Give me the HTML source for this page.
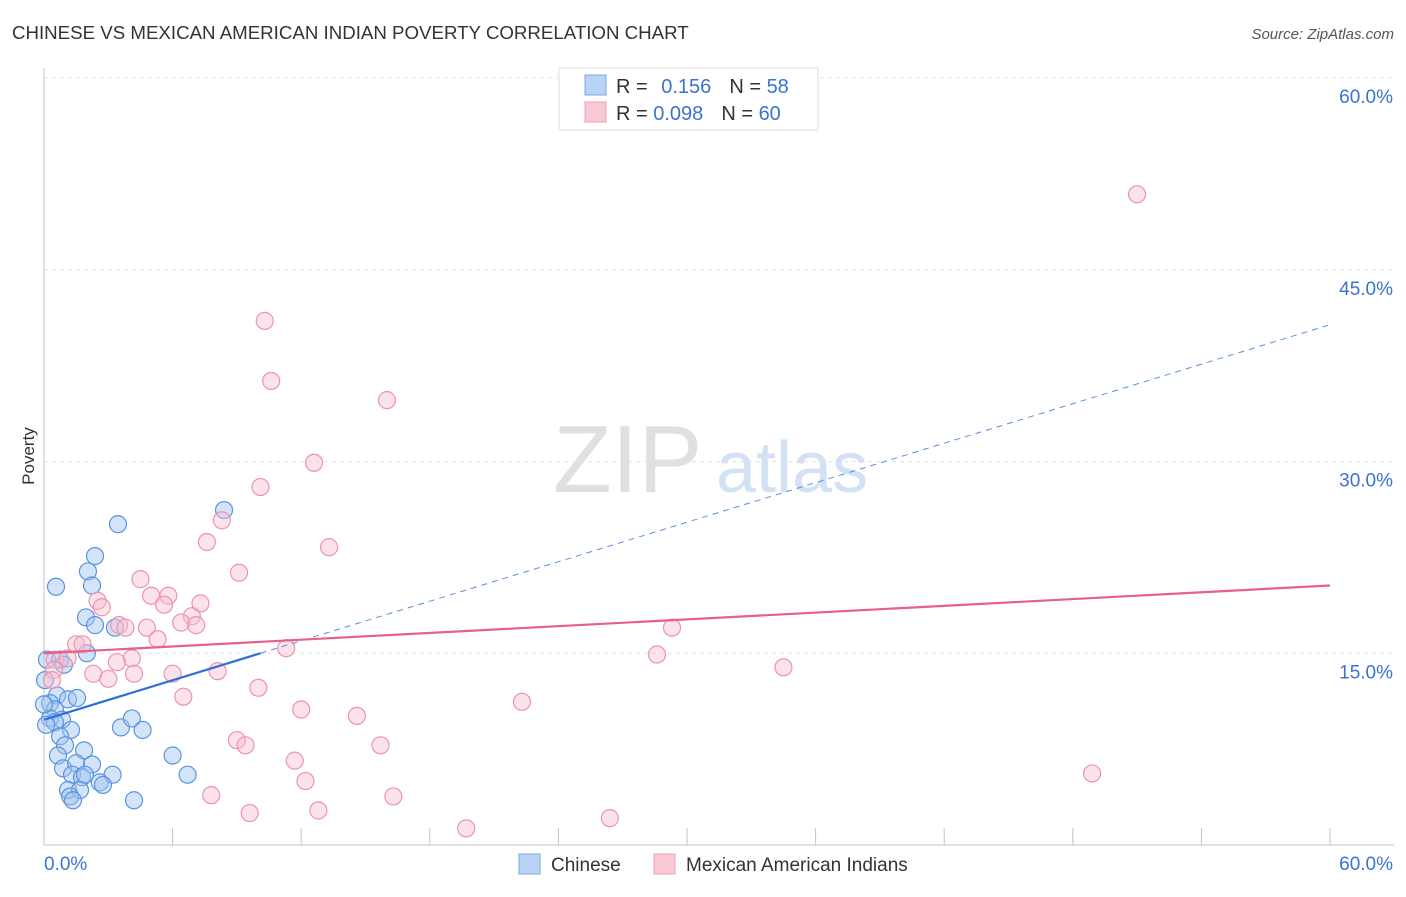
<!DOCTYPE html>
<html><head><meta charset="utf-8">
<style>
body{margin:0;background:#fff;font-family:"Liberation Sans",sans-serif;}
svg text{font-family:"Liberation Sans",sans-serif;}
</style></head>
<body>
<svg id="chart" width="1406" height="892" viewBox="0 0 1406 892">
<text x="12" y="39" font-size="18.7" fill="#333">CHINESE VS MEXICAN AMERICAN INDIAN POVERTY CORRELATION CHART</text>
<text x="1394" y="39" font-size="15" fill="#555" font-style="italic" text-anchor="end">Source: ZipAtlas.com</text>
<text x="34" y="456" font-size="17" fill="#333" text-anchor="middle" transform="rotate(-90 34 456)">Poverty</text>
<g id="grid"></g>
<text x="553" y="492" font-size="96" fill="#e0e0e0" font-family="Liberation Serif">ZIP</text>
<text x="716" y="492" font-size="72" fill="#d3e1f4">atlas</text>
<g id="points"></g>
<g id="trends"></g>
<g>
<rect x="559" y="68" width="259" height="62" fill="#fff" stroke="#ddd"/>
<rect x="585" y="75" width="21" height="20" fill="#b9d3f5" stroke="#7fa9e0"/>
<rect x="585" y="102" width="21" height="20" fill="#f9c9d6" stroke="#eea0b6"/>
<text x="616" y="93" font-size="20" fill="#333">R = <tspan fill="#3b73d1" dx="8">0.156</tspan><tspan dx="18">N = </tspan><tspan fill="#3b73d1">58</tspan></text>
<text x="616" y="120" font-size="20" fill="#333">R = <tspan fill="#3b73d1">0.098</tspan><tspan dx="18">N = </tspan><tspan fill="#3b73d1">60</tspan></text>
</g>
<g>
<rect x="519" y="854" width="21" height="20" fill="#b9d3f5" stroke="#7fa9e0"/>
<text x="551" y="871" font-size="19" fill="#333">Chinese</text>
<rect x="654" y="854" width="21" height="20" fill="#f9c9d6" stroke="#eea0b6"/>
<text x="686" y="871" font-size="19" fill="#333">Mexican American Indians</text>
</g>
</svg>
<script>
const yTicks=[15,30,45,60];
const yTickLabels=["15.0%","30.0%","45.0%","60.0%"];
const xTickLabels=["0.0%","60.0%"];
const chineseX=[0.56,3.45,8.4,2.38,2.05,2.24,1.96,2.38,3.31,2.0,0.14,0.75,0.93,0.61,1.12,1.54,0.28,0.51,0.28,0.84,0.51,1.26,0.75,0.98,1.87,3.59,4.1,4.6,6.0,6.7,0.65,0.89,1.5,2.24,1.31,1.77,1.91,3.2,2.6,1.12,1.68,2.75,1.22,1.35,4.2,0.05,0,0.1];
const chineseY=[20.2,25.1,26.2,22.6,21.4,20.3,17.8,17.2,17.0,15.0,14.5,14.5,14.1,11.7,11.4,11.5,11.1,10.6,9.9,9.8,9.6,9.0,8.5,7.8,7.4,9.2,9.9,9.0,7.0,5.5,7.0,6.0,6.4,6.3,5.5,5.3,5.5,5.5,4.9,4.3,4.3,4.7,3.8,3.5,3.5,12.9,11.0,9.4];
const mexicanX=[51.0,10.3,10.6,16.0,12.6,10.1,8.3,13.3,7.6,9.1,4.5,5.0,5.8,5.6,7.3,2.5,2.7,6.9,6.4,7.1,3.5,3.8,4.8,5.3,29.3,1.5,1.8,11.3,28.6,0.5,1.1,4.1,3.4,34.5,0.47,2.3,4.2,6.0,8.1,3.0,10.0,6.5,22.3,12.0,14.6,9.0,9.4,15.7,11.7,12.2,48.9,7.8,16.3,12.8,9.6,19.7,26.4,0.37];
const mexicanY=[50.9,41.0,36.3,34.8,29.9,28.0,25.4,23.3,23.7,21.3,20.8,19.5,19.5,18.8,18.9,19.1,18.6,17.9,17.4,17.2,17.2,17.0,17.0,16.1,17.0,15.7,15.7,15.4,14.9,14.5,14.6,14.6,14.3,13.9,13.7,13.4,13.4,13.4,13.6,13.0,12.3,11.6,11.2,10.6,10.1,8.2,7.8,7.8,6.6,5.0,5.6,3.9,3.8,2.7,2.5,1.3,2.1,12.9];
const chineseTrend=[9.8,40.7];
const chineseSolidEnd=10.1;
const mexicanTrend=[15.0,20.3];
const NS="http://www.w3.org/2000/svg";
const X0=44,X1=1330,Y0=845,Y60=78;
const sx=v=>X0+(v/60)*(X1-X0);
const sy=v=>Y0-(v/60)*(Y0-Y60);
function mk(t,a,p){const e=document.createElementNS(NS,t);for(const k in a)e.setAttribute(k,a[k]);p.appendChild(e);return e;}
const grid=document.getElementById('grid');
yTicks.forEach((t,i)=>{
 const l=mk('line',{x1:X0,x2:1394,y1:sy(t),y2:sy(t),stroke:'#e4e4e4','stroke-dasharray':'4,4'},grid);
 
 
 const tx=mk('text',{x:1393,y:sy(t)+25,'font-size':19,fill:'#3b73d1','text-anchor':'end'},grid);
 tx.textContent=yTickLabels[i];
 
 
});
const ax=mk('line',{x1:X0,x2:X0,y1:68,y2:Y0,stroke:'#c4c4c4'},grid);


const bx=mk('line',{x1:X0,x2:1394,y1:Y0,y2:Y0,stroke:'#c4c4c4'},grid);


for(let i=0;i<=10;i++){
 const x=X0+i*(X1-X0)/10;
 const tk=mk('line',{x1:x,x2:x,y1:Y0,y2:Y0-17,stroke:'#c4c4c4'},grid);
 
 
}
[[0,'start',44],[60,'end',1393]].forEach((d,i)=>{
 const t=mk('text',{x:d[2],y:870,'font-size':19,fill:'#3b73d1','text-anchor':d[1]},grid);
 t.textContent=xTickLabels[i];
 
 
});
const pts=document.getElementById('points');
chineseX.forEach((v,i)=>{
 const c=mk('circle',{cx:sx(v),cy:sy(chineseY[i]),r:8.5,fill:'rgba(160,196,240,0.45)',stroke:'#5b93e0','stroke-width':1.2},pts);
 
 
});
mexicanX.forEach((v,i)=>{
 const c=mk('circle',{cx:sx(v),cy:sy(mexicanY[i]),r:8.5,fill:'rgba(248,190,208,0.45)',stroke:'#ec93ae','stroke-width':1.2},pts);
 
 
});
const tr=document.getElementById('trends');
const cy=x=>chineseTrend[0]+(chineseTrend[1]-chineseTrend[0])*x/60;
const l1=mk('line',{x1:sx(0),y1:sy(cy(0)),x2:sx(chineseSolidEnd),y2:sy(cy(chineseSolidEnd)),stroke:'#2f6fd6','stroke-width':2.2},tr);


const l2=mk('line',{x1:sx(chineseSolidEnd),y1:sy(cy(chineseSolidEnd)),x2:sx(60),y2:sy(cy(60)),stroke:'#5b8fdc','stroke-width':1,'stroke-dasharray':'6,5'},tr);


const l3=mk('line',{x1:sx(0),y1:sy(mexicanTrend[0]),x2:sx(60),y2:sy(mexicanTrend[1]),stroke:'#e5608a','stroke-width':2.2},tr);


</script>
</body></html>
